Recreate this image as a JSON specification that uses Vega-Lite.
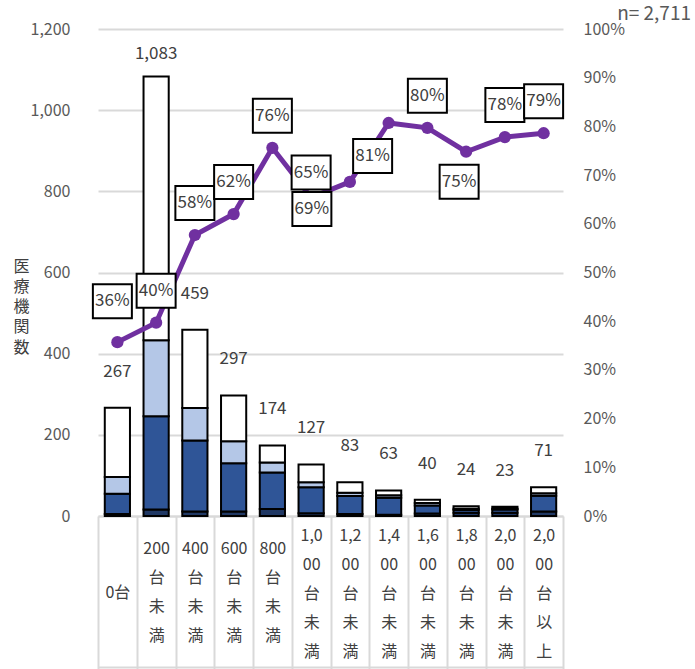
{
  "$schema": "https://vega.github.io/schema/vega-lite/v6.json",
  "width": 465,
  "height": 487,
  "autosize": {"type": "none"},
  "padding": {"left": 98, "top": 29, "right": 132, "bottom": 153},
  "background": "white",
  "config": {
    "font": "Noto Sans CJK JP",
    "view": {"stroke": null},
    "axis": {"labelFont": "Noto Sans CJK JP", "labelColor": "#595959", "labelFontSize": 16, "titleFont": "Noto Sans CJK JP"},
    "text": {"font": "Noto Sans CJK JP"}
  },
  "title": {"text": "n= 2,711", "anchor": "end", "frame": "group", "orient": "top", "offset": 0, "dx": 128, "dy": 3, "fontSize": 19, "fontWeight": "normal", "color": "#595959", "font": "Noto Sans CJK JP"},
  "datasets": {
    "bars": [
      {"cat": "0台", "seg": "区分1", "n": 5}, {"cat": "0台", "seg": "区分2", "n": 50}, {"cat": "0台", "seg": "区分3", "n": 41}, {"cat": "0台", "seg": "区分4", "n": 171},
      {"cat": "200台未満", "seg": "区分1", "n": 16}, {"cat": "200台未満", "seg": "区分2", "n": 230}, {"cat": "200台未満", "seg": "区分3", "n": 187}, {"cat": "200台未満", "seg": "区分4", "n": 650},
      {"cat": "400台未満", "seg": "区分1", "n": 11}, {"cat": "400台未満", "seg": "区分2", "n": 175}, {"cat": "400台未満", "seg": "区分3", "n": 80}, {"cat": "400台未満", "seg": "区分4", "n": 193},
      {"cat": "600台未満", "seg": "区分1", "n": 11}, {"cat": "600台未満", "seg": "区分2", "n": 119}, {"cat": "600台未満", "seg": "区分3", "n": 54}, {"cat": "600台未満", "seg": "区分4", "n": 113},
      {"cat": "800台未満", "seg": "区分1", "n": 17}, {"cat": "800台未満", "seg": "区分2", "n": 90}, {"cat": "800台未満", "seg": "区分3", "n": 25}, {"cat": "800台未満", "seg": "区分4", "n": 42},
      {"cat": "1,000台未満", "seg": "区分1", "n": 7}, {"cat": "1,000台未満", "seg": "区分2", "n": 64}, {"cat": "1,000台未満", "seg": "区分3", "n": 12}, {"cat": "1,000台未満", "seg": "区分4", "n": 44},
      {"cat": "1,200台未満", "seg": "区分1", "n": 5}, {"cat": "1,200台未満", "seg": "区分2", "n": 44}, {"cat": "1,200台未満", "seg": "区分3", "n": 8}, {"cat": "1,200台未満", "seg": "区分4", "n": 26},
      {"cat": "1,400台未満", "seg": "区分1", "n": 3}, {"cat": "1,400台未満", "seg": "区分2", "n": 42}, {"cat": "1,400台未満", "seg": "区分3", "n": 6}, {"cat": "1,400台未満", "seg": "区分4", "n": 12},
      {"cat": "1,600台未満", "seg": "区分1", "n": 6}, {"cat": "1,600台未満", "seg": "区分2", "n": 20}, {"cat": "1,600台未満", "seg": "区分3", "n": 6}, {"cat": "1,600台未満", "seg": "区分4", "n": 8},
      {"cat": "1,800台未満", "seg": "区分1", "n": 8}, {"cat": "1,800台未満", "seg": "区分2", "n": 7}, {"cat": "1,800台未満", "seg": "区分3", "n": 3}, {"cat": "1,800台未満", "seg": "区分4", "n": 6},
      {"cat": "2,000台未満", "seg": "区分1", "n": 8}, {"cat": "2,000台未満", "seg": "区分2", "n": 8}, {"cat": "2,000台未満", "seg": "区分3", "n": 2}, {"cat": "2,000台未満", "seg": "区分4", "n": 5},
      {"cat": "2,000台以上", "seg": "区分1", "n": 11}, {"cat": "2,000台以上", "seg": "区分2", "n": 39}, {"cat": "2,000台以上", "seg": "区分3", "n": 6}, {"cat": "2,000台以上", "seg": "区分4", "n": 15}
    ],
    "cats": [
      {"cat": "0台", "total": 267, "rate": 0.357},
      {"cat": "200台未満", "total": 1083, "rate": 0.397},
      {"cat": "400台未満", "total": 459, "rate": 0.577},
      {"cat": "600台未満", "total": 297, "rate": 0.62},
      {"cat": "800台未満", "total": 174, "rate": 0.756},
      {"cat": "1,000台未満", "total": 127, "rate": 0.654},
      {"cat": "1,200台未満", "total": 83, "rate": 0.686},
      {"cat": "1,400台未満", "total": 63, "rate": 0.807},
      {"cat": "1,600台未満", "total": 40, "rate": 0.797},
      {"cat": "1,800台未満", "total": 24, "rate": 0.748},
      {"cat": "2,000台未満", "total": 23, "rate": 0.778},
      {"cat": "2,000台以上", "total": 71, "rate": 0.786}
    ]
  },
  "encoding": {
    "x": {
      "field": "cat", "type": "nominal",
      "scale": {"domain": ["0台", "200台未満", "400台未満", "600台未満", "800台未満", "1,000台未満", "1,200台未満", "1,400台未満", "1,600台未満", "1,800台未満", "2,000台未満", "2,000台以上"], "paddingInner": 0, "paddingOuter": 0}
    }
  },
  "layer": [
    {
      "data": {"name": "bars"},
      "layer": [
        {
          "mark": {"type": "bar", "stroke": "black", "strokeWidth": 2, "width": {"band": 0.65}},
          "encoding": {
            "x": {
              "field": "cat", "type": "nominal",
              "axis": {
                "title": null, "tickBand": "extent", "tickSize": 153, "tickColor": "#D9D9D9", "tickWidth": 2,
                "domainColor": "#D9D9D9", "domainWidth": 2, "labelAngle": 0,
                "labelPadding": {"condition": [{"test": "datum.label == '0台'", "value": -77}, {"test": "indexof(datum.label, ',') > 0", "value": -134}], "value": -121},
                "labelBaseline": "middle", "labelAlign": "center", "labelLineHeight": 29, "labelColor": "#404040", "labelFontSize": 16, "labelLimit": 200,
                "labelExpr": "datum.label == '0台' ? '0台' : indexof(datum.label, ',') > 0 ? [slice(datum.label,0,3), slice(datum.label,3,5), slice(datum.label,5,6), slice(datum.label,6,7), slice(datum.label,7,8)] : [slice(datum.label,0,3), slice(datum.label,3,4), slice(datum.label,4,5), slice(datum.label,5,6)]"
              }
            },
            "y": {
              "field": "n", "type": "quantitative", "stack": "zero",
              "scale": {"domain": [0, 1200], "nice": false},
              "axis": {
                "title": ["医", "療", "機", "関", "数"], "titleAngle": 0, "titleX": -77, "titleY": 237,
                "titleAlign": "center", "titleBaseline": "middle", "titleLineHeight": 20.3, "titleFontSize": 16,
                "titleFontWeight": "normal", "titleColor": "#404040",
                "values": [0, 200, 400, 600, 800, 1000, 1200], "format": ",d",
                "grid": true, "gridColor": "#D9D9D9", "gridWidth": 2, "domain": false, "ticks": false, "labelPadding": 28
              }
            },
            "color": {
              "field": "seg", "type": "nominal",
              "scale": {"domain": ["区分1", "区分2", "区分3", "区分4"], "range": ["#203864", "#2F5597", "#B4C7E7", "#FFFFFF"]},
              "legend": null
            },
            "order": {"field": "seg", "sort": "ascending"}
          }
        }
      ]
    },
    {
      "data": {"name": "cats"},
      "layer": [
        {
          "mark": {"type": "text", "fontSize": 17, "color": "#404040", "baseline": "middle", "align": "center",
                   "dy": {"expr": "datum.cat == '200台未満' ? -22 : -36"}},
          "encoding": {
            "x": {"field": "cat", "type": "nominal", "axis": {"orient": "bottom", "offset": 151, "labels": false, "ticks": false, "grid": false, "title": null, "domainColor": "#D9D9D9", "domainWidth": 2}},
            "y": {"field": "total", "type": "quantitative", "scale": {"domain": [0, 1200], "nice": false}, "axis": null},
            "text": {"field": "total", "type": "quantitative", "format": ","}
          }
        }
      ]
    },
    {
      "data": {"name": "cats"},
      "layer": [
        {
          "mark": {"type": "line", "color": "#7030A0", "strokeWidth": 5},
          "encoding": {
            "x": {"field": "cat", "type": "nominal", "axis": null},
            "y": {
              "field": "rate", "type": "quantitative",
              "scale": {"domain": [0, 1], "nice": false},
              "axis": {"orient": "right", "title": null, "format": ".0%", "values": [0, 0.1, 0.2, 0.3, 0.4, 0.5, 0.6, 0.7, 0.8, 0.9, 1], "grid": false, "domain": false, "ticks": false, "labelPadding": 20}
            }
          }
        },
        {
          "mark": {"type": "point", "filled": true, "shape": "circle", "size": 150, "color": "#7030A0", "opacity": 1},
          "encoding": {"y": {"field": "rate", "type": "quantitative"}}
        },
        {
          "mark": {"type": "point", "shape": "M-1.147,-1H1.147V1H-1.147Z", "size": 1156, "filled": true, "fill": "white", "stroke": "black", "strokeWidth": 2, "opacity": 1, "fillOpacity": 1,
                   "xOffset": {"expr": "datum.cat == '1,200台未満' ? -38 : datum.cat == '1,400台未満' ? -16 : datum.cat == '1,800台未満' ? -7 : datum.cat == '0台' ? -5 : 0"},
                   "yOffset": {"expr": "datum.cat == '0台' ? -41 : datum.cat == '1,000台未満' ? -25 : datum.cat == '1,200台未満' ? 27 : datum.cat == '1,400台未満' ? 33 : datum.cat == '1,800台未満' ? 30 : -32"}},
          "encoding": {"y": {"field": "rate", "type": "quantitative"}}
        },
        {
          "mark": {"type": "text", "fontSize": 17, "color": "#404040", "baseline": "middle", "align": "center",
                   "xOffset": {"expr": "datum.cat == '1,200台未満' ? -38 : datum.cat == '1,400台未満' ? -16 : datum.cat == '1,800台未満' ? -7 : datum.cat == '0台' ? -5 : 0"},
                   "yOffset": {"expr": "datum.cat == '0台' ? -41 : datum.cat == '1,000台未満' ? -25 : datum.cat == '1,200台未満' ? 27 : datum.cat == '1,400台未満' ? 33 : datum.cat == '1,800台未満' ? 30 : -32"}},
          "encoding": {
            "y": {"field": "rate", "type": "quantitative"},
            "text": {"field": "rate", "type": "quantitative", "format": ".0%"}
          }
        }
      ]
    }
  ],
  "resolve": {"scale": {"y": "independent"}, "axis": {"x": "independent"}}
}
